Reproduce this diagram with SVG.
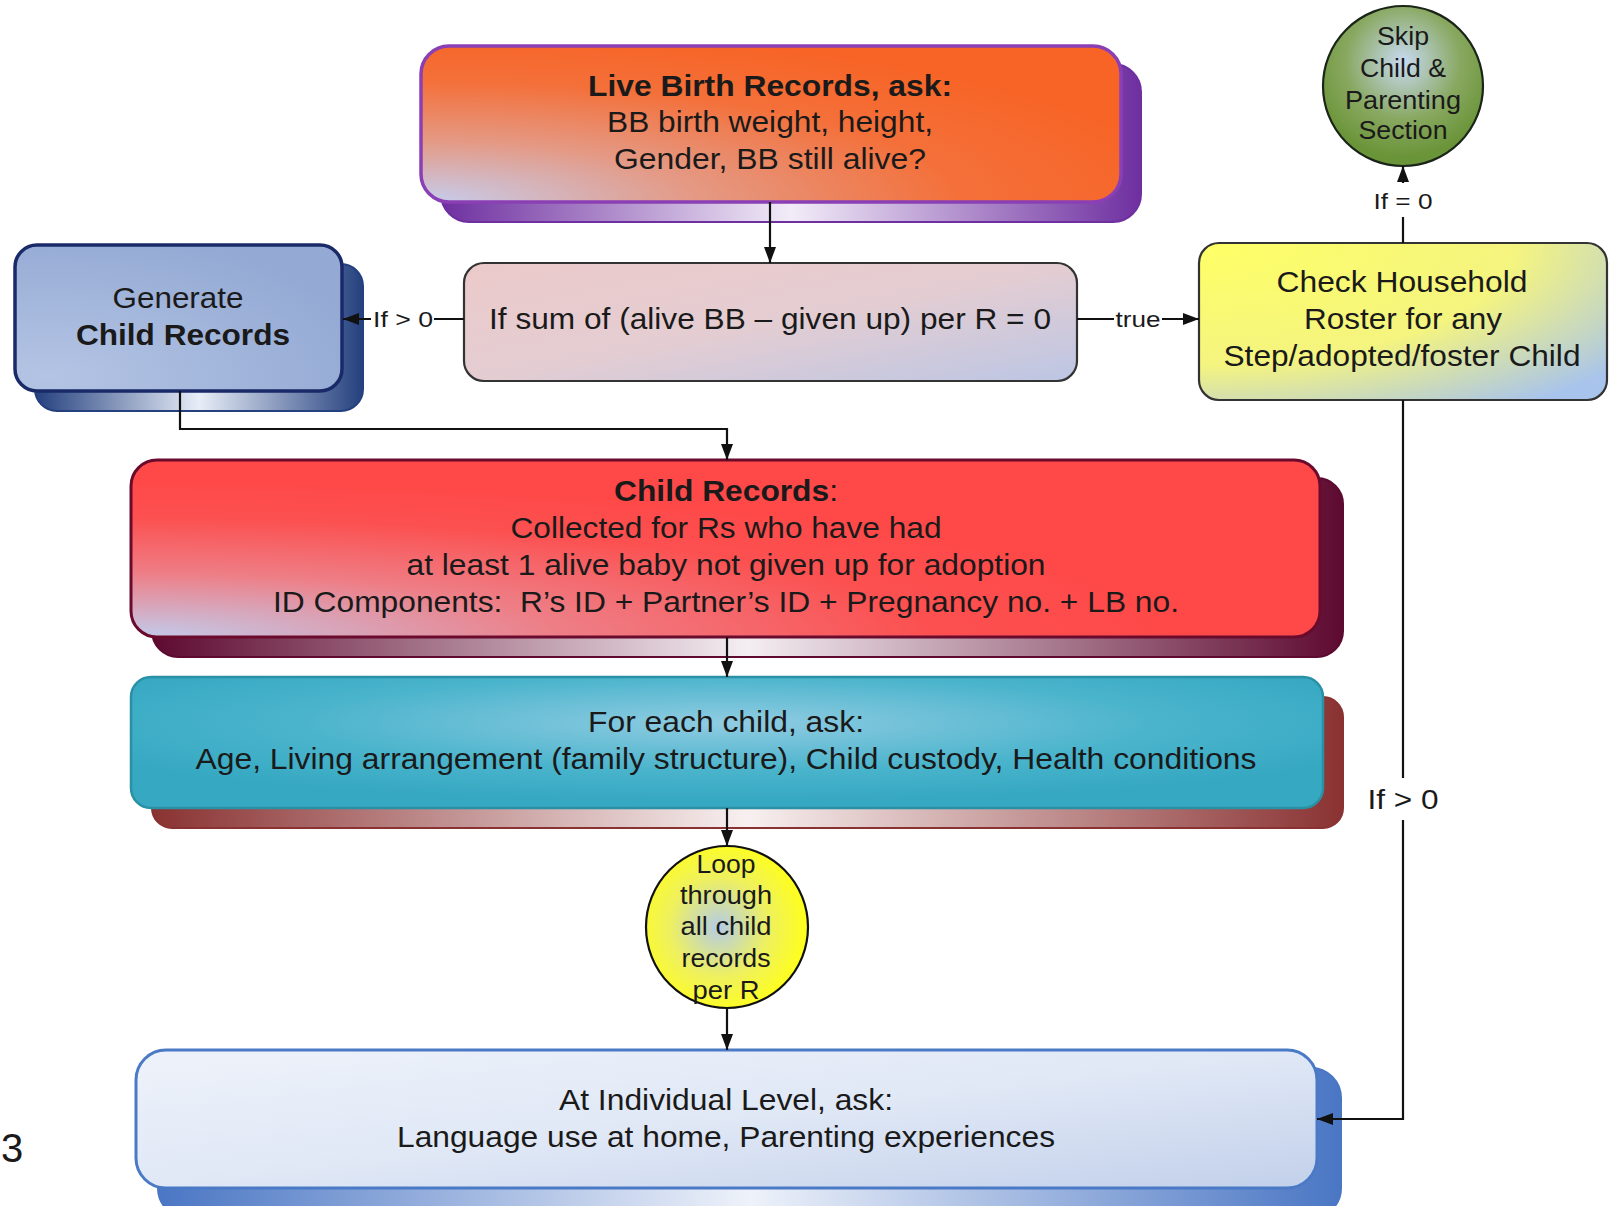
<svg xmlns="http://www.w3.org/2000/svg" width="1610" height="1206" viewBox="0 0 1610 1206">
<style>
text{font-family:"Liberation Sans",Arial,sans-serif;fill:#1a1a1a;text-anchor:middle}
.t{font-size:29px}
.c{font-size:25px}
.l{font-size:22px}
.b{font-weight:bold}
.conn{fill:none;stroke:#111;stroke-width:2.2}
.lbg{fill:#fff}
</style>
<defs>
<marker id="arr" viewBox="0 0 16 12" refX="16" refY="6" markerWidth="16" markerHeight="12" markerUnits="userSpaceOnUse" orient="auto">
<path d="M0,0 L16,6 L0,12 z" fill="#111"/>
</marker>
<radialGradient id="gLive" cx="0" cy="1" r="1.1">
<stop offset="0" stop-color="#c6cdee"/><stop offset="0.35" stop-color="#e49a86"/><stop offset="0.7" stop-color="#f4703a"/><stop offset="1" stop-color="#f76426"/>
</radialGradient>
<linearGradient id="sPurple" x1="0" y1="0" x2="1" y2="0">
<stop offset="0" stop-color="#6e2fa0"/><stop offset="0.5" stop-color="#f2ecf8"/><stop offset="1" stop-color="#6e2fa0"/>
</linearGradient>
<radialGradient id="gGen" cx="0.1" cy="0.9" r="1">
<stop offset="0" stop-color="#b4c4e4"/><stop offset="1" stop-color="#94aad4"/>
</radialGradient>
<linearGradient id="sNavy" x1="0" y1="0" x2="1" y2="0">
<stop offset="0" stop-color="#24407e"/><stop offset="0.5" stop-color="#e8eef8"/><stop offset="1" stop-color="#24407e"/>
</linearGradient>
<linearGradient id="gSum" x1="0" y1="0" x2="1" y2="1">
<stop offset="0" stop-color="#eccaca"/><stop offset="0.5" stop-color="#e4cdd2"/><stop offset="1" stop-color="#bcc6e4"/>
</linearGradient>
<radialGradient id="gCheck" cx="0" cy="0" r="1.3">
<stop offset="0" stop-color="#ffff66"/><stop offset="0.6" stop-color="#f4f480"/><stop offset="1" stop-color="#a8c4ec"/>
</radialGradient>
<radialGradient id="gSkip" cx="0.5" cy="0.35" r="0.6">
<stop offset="0" stop-color="#c8daf2"/><stop offset="0.6" stop-color="#88a860"/><stop offset="1" stop-color="#6a9438"/>
</radialGradient>
<radialGradient id="gChild" cx="0" cy="1" r="0.9">
<stop offset="0" stop-color="#c2cbec"/><stop offset="0.4" stop-color="#ee7e86"/><stop offset="0.75" stop-color="#fc5050"/><stop offset="1" stop-color="#ff4848"/>
</radialGradient>
<linearGradient id="sMaroon" x1="0" y1="0" x2="1" y2="0">
<stop offset="0" stop-color="#5e0a30"/><stop offset="0.5" stop-color="#f4eef2"/><stop offset="1" stop-color="#5e0a30"/>
</linearGradient>
<radialGradient id="gEach" cx="0.5" cy="0.35" r="0.6">
<stop offset="0" stop-color="#90cce2"/><stop offset="0.6" stop-color="#4ab4cc"/><stop offset="1" stop-color="#36a8c2"/>
</radialGradient>
<linearGradient id="sBrown" x1="0" y1="0" x2="1" y2="0">
<stop offset="0" stop-color="#8a3232"/><stop offset="0.5" stop-color="#f8f0f0"/><stop offset="1" stop-color="#8a3232"/>
</linearGradient>
<radialGradient id="gLoop" cx="0.45" cy="0.5" r="0.55">
<stop offset="0" stop-color="#b4cce6"/><stop offset="0.55" stop-color="#eef060"/><stop offset="1" stop-color="#ffff1a"/>
</radialGradient>
<linearGradient id="gInd" x1="0" y1="0" x2="1" y2="1">
<stop offset="0" stop-color="#eef2fa"/><stop offset="0.5" stop-color="#e0e8f6"/><stop offset="1" stop-color="#c2d0ea"/>
</linearGradient>
<linearGradient id="sBlue" x1="0" y1="0" x2="1" y2="0">
<stop offset="0" stop-color="#4a76c4"/><stop offset="0.5" stop-color="#eef2fa"/><stop offset="1" stop-color="#4a76c4"/>
</linearGradient>
</defs>

<rect width="1610" height="1206" fill="#fff"/>

<g id="live-birth">
<rect x="441" y="64" width="700" height="158" rx="28" fill="url(#sPurple)" stroke="#6e2fa0" stroke-width="2"/>
<rect x="421" y="46" width="700" height="156" rx="28" fill="url(#gLive)" stroke="#8a40b4" stroke-width="3.5"/>
<text class="t b" x="770" y="96" textLength="364" lengthAdjust="spacingAndGlyphs">Live Birth Records, ask:</text>
<text class="t" x="770" y="132" textLength="326" lengthAdjust="spacingAndGlyphs">BB birth weight, height,</text>
<text class="t" x="770" y="169" textLength="312" lengthAdjust="spacingAndGlyphs">Gender, BB still alive?</text>
</g>

<g id="generate">
<rect x="35" y="264" width="328" height="147" rx="22" fill="url(#sNavy)" stroke="#24407e" stroke-width="2"/>
<rect x="15" y="245" width="327" height="146" rx="22" fill="url(#gGen)" stroke="#1a2a68" stroke-width="3.5"/>
<text class="t" x="178" y="308" textLength="131" lengthAdjust="spacingAndGlyphs">Generate</text>
<text class="t b" x="183" y="345" textLength="214" lengthAdjust="spacingAndGlyphs">Child Records</text>
</g>

<g id="if-sum">
<rect x="464" y="263" width="613" height="118" rx="20" fill="url(#gSum)" stroke="#333" stroke-width="2.2"/>
<text class="t" x="770" y="329" textLength="562" lengthAdjust="spacingAndGlyphs">If sum of (alive BB – given up) per R = 0</text>
</g>

<g id="check-household">
<rect x="1199" y="243" width="408" height="157" rx="20" fill="url(#gCheck)" stroke="#333" stroke-width="2.2"/>
<text class="t" x="1402" y="292" textLength="251" lengthAdjust="spacingAndGlyphs">Check Household</text>
<text class="t" x="1403" y="329" textLength="198" lengthAdjust="spacingAndGlyphs">Roster for any</text>
<text class="t" x="1402" y="366" textLength="357" lengthAdjust="spacingAndGlyphs">Step/adopted/foster Child</text>
</g>

<g id="skip">
<circle cx="1403" cy="86" r="80" fill="url(#gSkip)" stroke="#1a2418" stroke-width="2.2"/>
<text class="c" x="1403" y="45" textLength="52" lengthAdjust="spacingAndGlyphs">Skip</text>
<text class="c" x="1403" y="77" textLength="86" lengthAdjust="spacingAndGlyphs">Child &amp;</text>
<text class="c" x="1403" y="109" textLength="116" lengthAdjust="spacingAndGlyphs">Parenting</text>
<text class="c" x="1403" y="139" textLength="89" lengthAdjust="spacingAndGlyphs">Section</text>
</g>

<g id="child-records">
<rect x="152" y="478" width="1191" height="179" rx="26" fill="url(#sMaroon)" stroke="#5e0a30" stroke-width="2"/>
<rect x="131" y="460" width="1189" height="177" rx="26" fill="url(#gChild)" stroke="#6a0a2c" stroke-width="3"/>
<text class="t" x="726" y="501" textLength="224" lengthAdjust="spacingAndGlyphs"><tspan font-weight="bold">Child Records</tspan>:</text>
<text class="t" x="726" y="538" textLength="431" lengthAdjust="spacingAndGlyphs">Collected for Rs who have had</text>
<text class="t" x="726" y="575" textLength="639" lengthAdjust="spacingAndGlyphs">at least 1 alive baby not given up for adoption</text>
<text class="t" x="726" y="612" textLength="906" lengthAdjust="spacingAndGlyphs" xml:space="preserve">ID Components:  R’s ID + Partner’s ID + Pregnancy no. + LB no.</text>
</g>

<g id="for-each-child">
<rect x="152" y="697" width="1191" height="131" rx="20" fill="url(#sBrown)" stroke="#8a3232" stroke-width="2"/>
<rect x="131" y="677" width="1192" height="131" rx="20" fill="url(#gEach)" stroke="#2a90a6" stroke-width="2.5"/>
<text class="t" x="726" y="732" textLength="276" lengthAdjust="spacingAndGlyphs">For each child, ask:</text>
<text class="t" x="726" y="769" textLength="1061" lengthAdjust="spacingAndGlyphs">Age, Living arrangement (family structure), Child custody, Health conditions</text>
</g>

<g id="loop">
<circle cx="727" cy="927" r="81" fill="url(#gLoop)" stroke="#111" stroke-width="2.2"/>
<text class="c" x="726" y="873" textLength="59" lengthAdjust="spacingAndGlyphs">Loop</text>
<text class="c" x="726" y="904" textLength="92" lengthAdjust="spacingAndGlyphs">through</text>
<text class="c" x="726" y="935" textLength="91" lengthAdjust="spacingAndGlyphs">all child</text>
<text class="c" x="726" y="967" textLength="89" lengthAdjust="spacingAndGlyphs">records</text>
<text class="c" x="726" y="999" textLength="67" lengthAdjust="spacingAndGlyphs">per R</text>
</g>

<g id="individual">
<rect x="158" y="1068" width="1183" height="150" rx="30" fill="url(#sBlue)" stroke="#4a76c4" stroke-width="2"/>
<rect x="136" y="1050" width="1181" height="138" rx="30" fill="url(#gInd)" stroke="#4a7ac6" stroke-width="3"/>
<text class="t" x="726" y="1110" textLength="334" lengthAdjust="spacingAndGlyphs">At Individual Level, ask:</text>
<text class="t" x="726" y="1147" textLength="658" lengthAdjust="spacingAndGlyphs">Language use at home, Parenting experiences</text>
</g>

<text x="1" y="1162" style="font-size:40px;text-anchor:start">3</text>

<g id="connectors">
<path class="conn" d="M770 202 V263" marker-end="url(#arr)"/>
<path class="conn" d="M464 319 H343" marker-end="url(#arr)"/>
<path class="conn" d="M1077 319 H1199" marker-end="url(#arr)"/>
<path class="conn" d="M1403 243 V166" marker-end="url(#arr)"/>
<path class="conn" d="M1403 400 V1119 H1317" marker-end="url(#arr)"/>
<path class="conn" d="M180 391 V429 H727 V460" marker-end="url(#arr)"/>
<path class="conn" d="M727 637 V677" marker-end="url(#arr)"/>
<path class="conn" d="M727 808 V846" marker-end="url(#arr)"/>
<path class="conn" d="M727 1008 V1050" marker-end="url(#arr)"/>
<rect class="lbg" x="371" y="305" width="63" height="28"/>
<text class="l" x="403" y="327" textLength="60" lengthAdjust="spacingAndGlyphs">If &gt; 0</text>
<rect class="lbg" x="1114" y="305" width="48" height="28"/>
<text class="l" x="1138" y="327" textLength="45" lengthAdjust="spacingAndGlyphs">true</text>
<rect class="lbg" x="1370" y="183" width="66" height="34"/>
<text class="l" x="1403" y="209" textLength="59" lengthAdjust="spacingAndGlyphs">If = 0</text>
<rect class="lbg" x="1364" y="778" width="79" height="42"/>
<text x="1403" y="809" style="font-size:27px" textLength="71" lengthAdjust="spacingAndGlyphs">If &gt; 0</text>
</g>
</svg>
